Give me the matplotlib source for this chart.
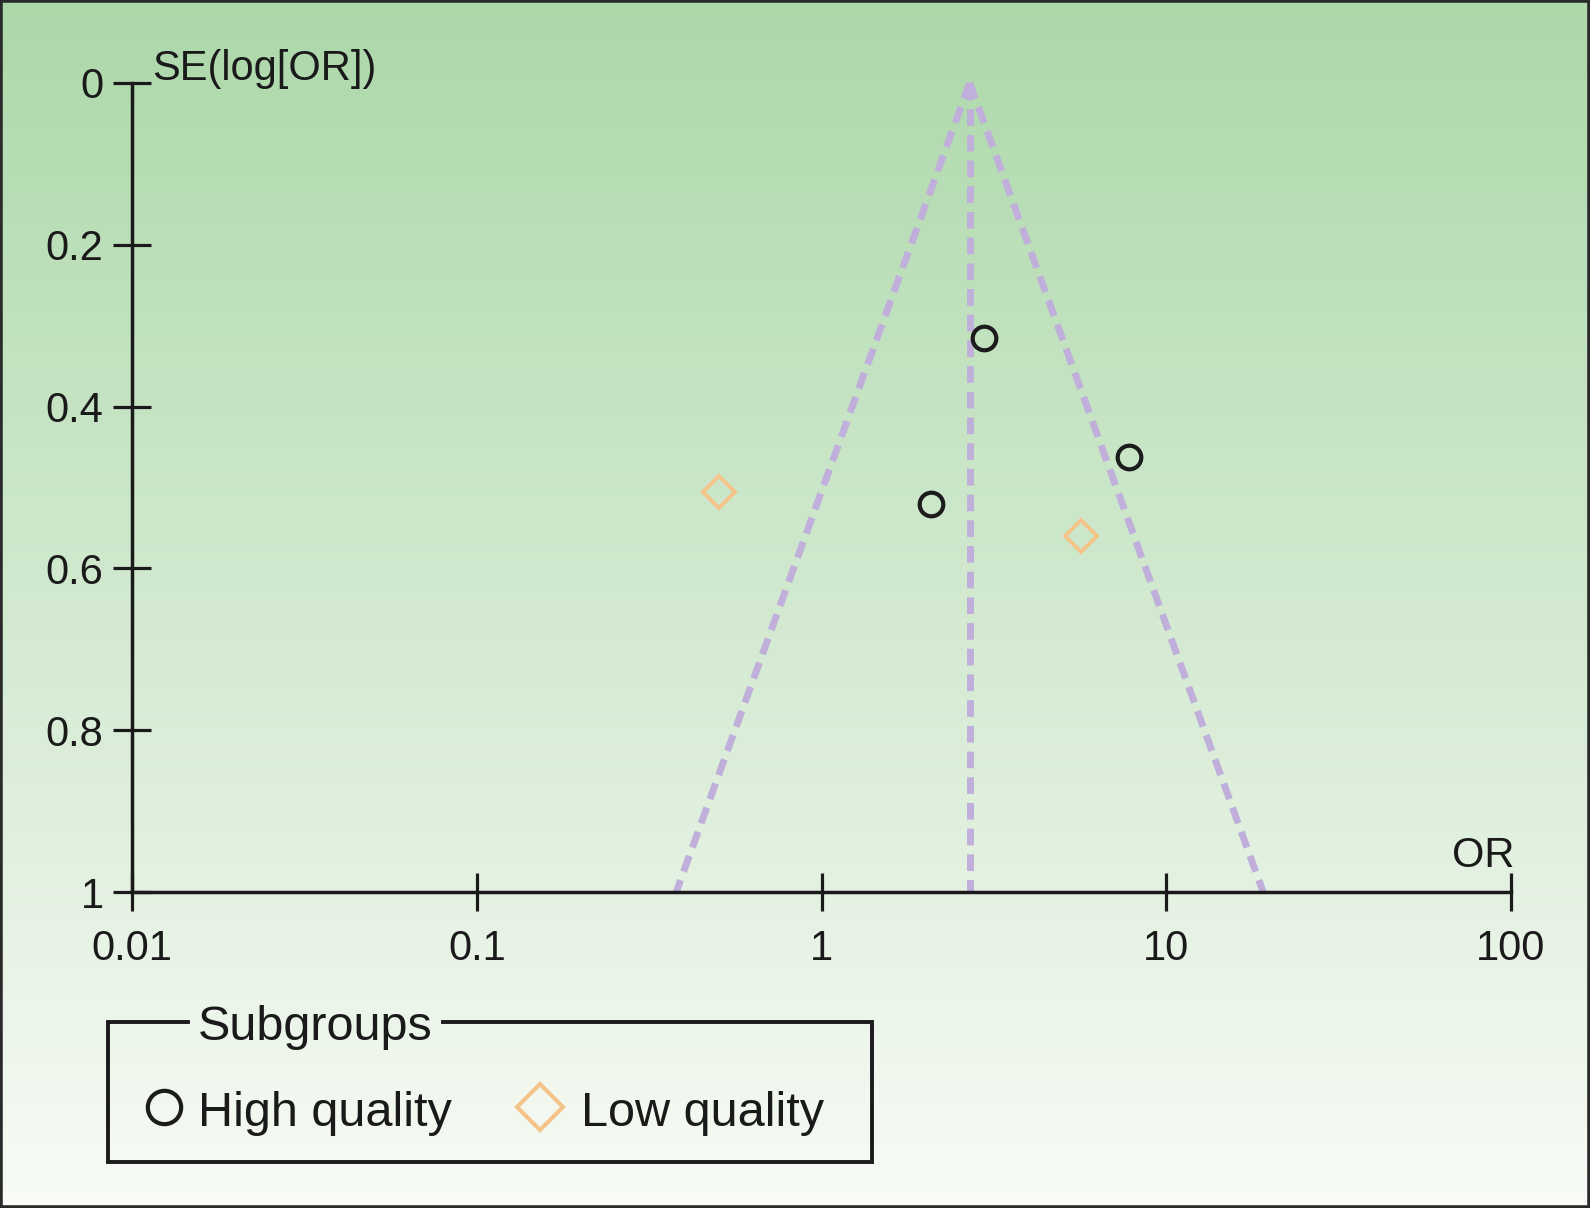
import matplotlib.pyplot as plt
import numpy as np
from matplotlib.patches import Rectangle
from matplotlib.lines import Line2D

plt.rcParams['font.family'] = ['Liberation Sans', 'DejaVu Sans']

# studies
high_or = [2.97, 7.78, 2.08]
high_se = [0.315, 0.462, 0.521]
low_or = [0.505, 5.66]
low_se = [0.505, 0.560]
pooled_or = 2.69
funnel_se = [0.0, 1.0]

x_ticks = [0.01, 0.1, 1, 10, 100]
x_labels = ['0.01', '0.1', '1', '10', '100']
y_ticks = [0, 0.2, 0.4, 0.6, 0.8, 1]
y_labels = ['0', '0.2', '0.4', '0.6', '0.8', '1']

W, H = 1590, 1208
fig = plt.figure(figsize=(W / 100, H / 100), dpi=100)

# background gradient
bg = fig.add_axes([0, 0, 1, 1], zorder=-5)
top = np.array([172, 216, 170]) / 255
bot = np.array([248, 251, 246]) / 255
t = np.linspace(0, 1, 256)[:, None]
grad = (top[None, :] * (1 - t) + bot[None, :] * t)[:, None, :]
bg.imshow(grad, aspect='auto', extent=[0, 1, 0, 1], origin='upper')
bg.axis('off')
fig.patches.append(Rectangle((0, 0), 1, 1, transform=fig.transFigure,
                             fill=False, ec='#2a2a2a', lw=4, zorder=10))

ax = fig.add_axes([132 / W, 1 - 892 / H, (1511 - 132) / W, (892 - 83) / H])
ax.set_facecolor('none')
ax.set_xscale('log')
ax.set_xlim(0.01, 100)
ax.set_ylim(1, 0)
for s in ['top', 'right']:
    ax.spines[s].set_visible(False)
for s in ['left', 'bottom']:
    ax.spines[s].set_linewidth(2.5)
    ax.spines[s].set_color('#1a1a1a')
ax.set_xticks(x_ticks)
ax.set_xticklabels(x_labels)
ax.set_yticks(y_ticks)
ax.set_yticklabels(y_labels)
ax.minorticks_off()
ax.tick_params(axis='both', direction='inout', length=27, width=2.3,
               color='#1a1a1a', labelsize=30, labelcolor='#1a1a1a')
ax.tick_params(axis='x', pad=13)
ax.tick_params(axis='y', pad=7)

# funnel
purple = '#c0afdb'
se = np.array(funnel_se)
lo = np.exp(np.log(pooled_or) - 1.96 * se)
hi = np.exp(np.log(pooled_or) + 1.96 * se)
dash = (0, (2.4, 1.3))
ax.plot(lo, se, color=purple, lw=5, ls=dash, clip_on=False, zorder=2)
ax.plot(hi, se, color=purple, lw=5, ls=dash, clip_on=False, zorder=2)
ax.plot([pooled_or, pooled_or], se, color=purple, lw=5, ls=dash,
        clip_on=False, zorder=2)

ax.plot(high_or, high_se, 'o', ms=17, mfc='none', mec='#1c1c1c', mew=3,
        zorder=3)
ax.plot(low_or, low_se, 'D', ms=16, mfc='none', mec='#f5c48a', mew=2.8,
        zorder=3)

fig.text(152 / W, 1 - 80 / H, 'SE(log[OR])', fontsize=30, color='#1a1a1a',
         va='baseline', ha='left')
fig.text(1514 / W, 1 - 867 / H, 'OR', fontsize=30, color='#1a1a1a',
         va='baseline', ha='right')

# legend box with title breaking the border
L, R, T, B = 108 / W, 872 / W, 1 - 1022 / H, 1 - 1162 / H
g0, g1 = 188 / W, 443 / W
lk = dict(transform=fig.transFigure, color='#1a1a1a', lw=2.8)
fig.add_artist(Line2D([g1, R, R, L, L, g0], [T, T, B, B, T, T],
                      solid_joinstyle='miter', **lk))
fig.text(198 / W, 1 - 1040 / H, 'Subgroups', fontsize=35, color='#1a1a1a',
         va='baseline', ha='left')
fig.add_artist(Line2D([164 / W], [1 - 1107 / H], transform=fig.transFigure,
                      marker='o', ms=24, mfc='none', mec='#1c1c1c', mew=3))
fig.text(198 / W, 1 - 1126 / H, 'High quality', fontsize=35, color='#1a1a1a',
         va='baseline', ha='left')
fig.add_artist(Line2D([540 / W], [1 - 1107 / H], transform=fig.transFigure,
                      marker='D', ms=23, mfc='none', mec='#f5c48a', mew=3))
fig.text(581 / W, 1 - 1126 / H, 'Low quality', fontsize=35, color='#1a1a1a',
         va='baseline', ha='left')

fig.savefig('out.png', dpi=100)
